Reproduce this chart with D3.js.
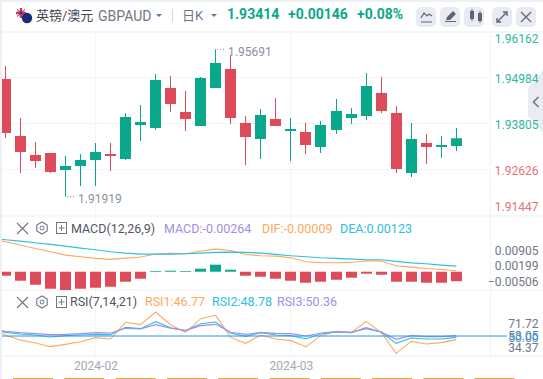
<!DOCTYPE html>
<html>
<head>
<meta charset="utf-8">
<script src="https://cdn.jsdelivr.net/npm/d3@7"></script>
<style>
body { margin: 0; background: #fff; overflow: hidden; }
text { font-family: Roboto, "Noto Sans CJK SC", sans-serif; }
</style>
</head>
<body>
<div id="root"></div>
<script>
//DATA
const open = [1.94933,1.93472,1.92985,1.93036,1.92600,1.92703,1.92857,1.93010,1.92882,1.93754,1.93677,1.94702,1.94087,1.93728,1.94702,1.95189,1.93805,1.93395,1.93908,1.93600,1.93574,1.93190,1.93626,1.93933,1.93984,1.94574,1.94061,1.92523,1.93292,1.93190,1.93216];
const high = [1.95266,1.93933,1.93318,1.93036,1.92959,1.93010,1.93292,1.93292,1.94061,1.94266,1.95061,1.95010,1.94625,1.94984,1.95691,1.95548,1.93984,1.94164,1.94446,1.93933,1.93805,1.93856,1.94420,1.94189,1.95087,1.94984,1.94241,1.93805,1.93523,1.93472,1.93677];
const low = [1.93421,1.92523,1.92652,1.92523,1.91919,1.92190,1.92190,1.92575,1.92857,1.93344,1.93626,1.94087,1.93600,1.93728,1.94702,1.93779,1.92729,1.92882,1.93728,1.92831,1.93010,1.93036,1.93523,1.93779,1.93882,1.94061,1.92523,1.92421,1.92754,1.92908,1.93087];
const close = [1.93549,1.93062,1.92831,1.92549,1.92703,1.92857,1.93062,1.92959,1.93959,1.93831,1.94907,1.94292,1.93908,1.94958,1.95343,1.93933,1.93446,1.94010,1.93728,1.93651,1.93241,1.93754,1.94113,1.94036,1.94753,1.94113,1.92626,1.93395,1.93190,1.93241,1.93414];

const macdBars = [-0.00111,-0.00249,-0.00360,-0.00471,-0.00506,-0.00471,-0.00443,-0.00416,-0.00277,-0.00194,0.00014,0.00028,0.00014,0.00083,0.00194,0.00055,-0.00111,-0.00139,-0.00194,-0.00249,-0.00305,-0.00277,-0.00222,-0.00166,-0.00055,-0.00083,-0.00277,-0.00277,-0.00305,-0.00305,-0.00264];
// line arrays start one candle before the visible ones
const dea = [0.00921,0.00885,0.00848,0.00801,0.00755,0.00709,0.00654,0.00608,0.00552,0.00515,0.00488,0.00488,0.00488,0.00497,0.00515,0.00534,0.00543,0.00534,0.00515,0.00478,0.00441,0.00414,0.00386,0.00368,0.00349,0.00331,0.00331,0.00284,0.00247,0.00220,0.00183,0.00155];
const dif = [0.00903,0.00829,0.00737,0.00644,0.00552,0.00460,0.00414,0.00368,0.00340,0.00377,0.00405,0.00488,0.00506,0.00497,0.00571,0.00626,0.00589,0.00478,0.00441,0.00432,0.00386,0.00275,0.00247,0.00247,0.00257,0.00303,0.00294,0.00164,0.00128,0.00090,0.00063,0.00026];

const rsi1 = [56.95,50.92,46.40,43.69,40.37,42.48,44.89,48.51,47.30,62.38,60.27,71.72,59.97,53.33,65.69,68.71,48.51,43.38,50.92,47.30,45.80,40.37,50.32,54.24,53.03,63.28,53.33,34.34,45.19,42.78,43.99,46.77];
const rsi2 = [56.05,53.33,51.83,50.92,49.11,50.32,50.92,51.52,51.22,57.86,56.65,62.98,57.55,54.84,61.17,62.68,52.43,49.72,53.03,50.92,50.32,47.60,51.83,53.64,53.03,57.55,53.64,43.38,48.21,47.30,47.30,48.78];
const rsi3 = [56.95,54.24,53.03,52.13,51.22,51.52,52.13,53.03,52.73,56.95,56.35,60.27,56.95,55.14,59.36,60.57,53.33,51.52,53.33,52.43,52.13,50.02,52.73,53.94,53.33,56.65,53.64,47.00,50.32,49.41,49.41,50.36];

const priceTicks = [1.96162,1.94984,1.93805,1.92626,1.91447];
const macdTicks = [0.00905,0.00199,-0.00506];
const rsiTicks = [71.72,53.05,34.37];
const rsiLevel = 50;
const monthLabels = ["2024-02","2024-03"];
const monthCandles = [6,19];

//DIMENSIONS
const width = 543, height = 379;
const plotLeft = 2, plotRight = 491;
const green = "#0aa88a", red = "#dd4b5a", gray = "#6f7686", gridColor = "#f4f5f9";
const orange = "#ffa85c", cyan = "#2fc0de", purple = "#a68be8";

const svg = d3.select("#root").append("svg").attr("width", width).attr("height", height);

//SCALES
const x = d3.scaleLinear().domain([0,30]).range([5.3,456.3]);
const yPrice = d3.scaleLinear().domain([1.91447,1.96162]).range([215,31]);
const yMacd = d3.scaleLinear().domain([-0.00506,0.00905]).range([290,239]);
const yMacdLabel = d3.scaleLinear().domain([-0.00506,0.00905]).range([281.7,250.3]);
const yRsi = d3.scaleLinear().domain([34.37,71.72]).range([353.3,312]);
const yRsiLabel = d3.scaleLinear().domain([34.37,71.72]).range([347.3,323.3]);

//FRAME
svg.append("rect").attr("width",width).attr("height",2).attr("fill","#eef0f6");
svg.append("rect").attr("y",31).attr("width",width).attr("height",2).attr("fill","#f5f6fa");
svg.append("rect").attr("width",plotLeft).attr("height",height).attr("fill","#eef0f6");
svg.append("rect").attr("x",plotRight-1).attr("y",33).attr("width",1).attr("height",323).attr("fill","#f1f2f6");
[216,290,356].forEach(y => {
    svg.append("rect").attr("x",plotLeft).attr("y",y-0.5).attr("width",width-plotLeft).attr("height",1).attr("fill","#eff0f4");
});

svg.append("defs").append("clipPath").attr("id","plot")
    .append("rect").attr("x",plotLeft).attr("y",33).attr("width",plotRight-plotLeft).attr("height",323);

//GRID
const grid = svg.append("g").attr("fill",gridColor);
monthCandles.forEach(i => {
    grid.append("rect").attr("x",Math.floor(x(i))).attr("y",33).attr("width",1).attr("height",323);
});
priceTicks.slice(1,4).forEach(t => {
    grid.append("rect").attr("x",plotLeft).attr("y",Math.round(yPrice(t))).attr("width",plotRight-plotLeft).attr("height",1);
});

//HANDLE
svg.append("polygon").attr("points","543,70 528,88 528,116 543,133").attr("fill","#ebecf2");
svg.append("path").attr("d","M538.5,97 L533.5,102 L538.5,107").attr("fill","none").attr("stroke","#6f7686").attr("stroke-width",1.6);

//CANDLES
const plot = svg.append("g").attr("clip-path","url(#plot)");
const candle = plot.selectAll(".candle").data(close).join("g").attr("class","candle")
    .attr("fill",(d,i) => close[i] >= open[i] ? green : red);
candle.append("rect")
    .attr("x",(d,i) => Math.floor(x(i)))
    .attr("y",(d,i) => yPrice(high[i]))
    .attr("width",1)
    .attr("height",(d,i) => yPrice(low[i]) - yPrice(high[i]));
candle.append("rect")
    .attr("x",(d,i) => Math.floor(x(i)) - 5)
    .attr("y",(d,i) => yPrice(Math.max(open[i],close[i])))
    .attr("width",11)
    .attr("height",(d,i) => Math.max(1,Math.abs(yPrice(open[i]) - yPrice(close[i]))));

//HIGH AND LOW MARKERS
function extremeLabel(i, value, label) {
    const cx = Math.floor(x(i)) + 1, cy = yPrice(value);
    svg.append("line").attr("x1",cx+1).attr("x2",cx+10).attr("y1",cy).attr("y2",cy)
        .attr("stroke","#8a8f9c").attr("stroke-width",1).attr("stroke-dasharray","1,2");
    svg.append("text").attr("x",cx+12).attr("y",cy+3).attr("dy",".32em")
        .attr("font-size",12).attr("fill","#8a8f9c").text(label);
}
extremeLabel(14,d3.max(high),"1.95691");
extremeLabel(4,d3.min(low),"1.91919");

//MACD PANE
plot.selectAll(".macd").data(macdBars).join("rect").attr("class","macd")
    .attr("x",(d,i) => Math.floor(x(i)) - 5)
    .attr("y",d => d > 0 ? yMacd(d) : yMacd(0))
    .attr("width",11)
    .attr("height",d => Math.max(0.7,Math.abs(yMacd(d) - yMacd(0))))
    .attr("fill",d => d > 0 ? green : red);

const lineMacd = d3.line().x((d,i) => x(i-1)).y(d => yMacd(d));
plot.append("path").datum(dif).attr("fill","none").attr("stroke",orange).attr("stroke-width",1.1).attr("d",lineMacd);
plot.append("path").datum(dea).attr("fill","none").attr("stroke",cyan).attr("stroke-width",1.2).attr("d",lineMacd);

//RSI PANE
const lineRsi = d3.line().x((d,i) => x(i-1)).y(d => yRsi(d));
[[rsi1,orange],[rsi2,cyan],[rsi3,purple]].forEach(s => {
    plot.append("path").datum(s[0]).attr("fill","none").attr("stroke",s[1]).attr("stroke-width",1.1).attr("d",lineRsi);
});
svg.append("line").attr("x1",plotLeft).attr("x2",507)
    .attr("y1",yRsi(rsiLevel)).attr("y2",yRsi(rsiLevel))
    .attr("stroke","#1e9be8").attr("stroke-width",1);

//AXES
function rightAxis(ticks, format, scale, color) {
    const g = svg.append("g").attr("transform",`translate(${plotRight},0)`)
        .call(d3.axisRight(scale).tickValues(ticks).tickFormat(format).tickSize(0));
    g.select(".domain").remove();
    g.selectAll("text")
        .attr("x",47.5)
        .style("text-anchor","end")
        .attr("font-size",12)
        .attr("font-family","Roboto")
        .attr("fill",color);
    return g;
}
// price labels sit a little under their grid line and are held inside the pane
rightAxis(priceTicks,d3.format(".5f"),yPrice,d => d > 1.93 ? "#2fb79d" : "#e8707c")
    .selectAll(".tick")
    .attr("transform",d => `translate(0,${Math.min(207.3,Math.max(39.3,yPrice(d) + 2.5))})`);
rightAxis(macdTicks,d3.format(".5f"),yMacdLabel,gray);
rightAxis(rsiTicks,d3.format(".2f"),yRsiLabel,gray);
rightAxis([rsiLevel],d3.format(".2f"),yRsiLabel,"#3a9be6");

const xAxis = svg.append("g").attr("transform","translate(0,356)")
    .call(d3.axisBottom(x).tickValues(monthCandles).tickFormat((d,i) => monthLabels[i]).tickSize(0));
xAxis.select(".domain").remove();
xAxis.selectAll("text").attr("y",5).attr("font-size",12).attr("font-family","Roboto").attr("fill","#a3a7b3");

//BOTTOM TABS
d3.range(10).forEach(i => {
    svg.append("rect").attr("x",13 + i*51.3).attr("y",378).attr("width",40).attr("height",1).attr("fill","#e0a24a");
});

//HEADER
function label(xPos, yPos, str, color, size, weight) {
    return svg.append("text").attr("x",xPos).attr("y",yPos).attr("font-size",size)
        .attr("font-weight",weight || 400).attr("fill",color).text(str);
}
// flags
svg.append("circle").attr("cx",21).attr("cy",13).attr("r",5).attr("fill","#fff");
svg.append("path").attr("d","M16,13 h10 M21,8 v10").attr("stroke","#d9343f").attr("stroke-width",2.5);
svg.append("path").attr("d","M17,9.5 L25,16.5 M25,9.5 L17,16.5").attr("stroke","#2b3a8c").attr("stroke-width",1);
svg.append("circle").attr("cx",27).attr("cy",18).attr("r",5.2).attr("fill","#1d2a78");

label(36,20,"英镑/澳元","#3f4452",13);
label(98,21,"GBPAUD","#6f7686",14);
svg.append("path").attr("d","M156,14 h6 l-3,3 z").attr("fill","#6f7686");
svg.append("rect").attr("x",172).attr("y",9).attr("width",1).attr("height",13).attr("fill","#d5d8e0");
label(182,20,"日K","#6f7686",13);
svg.append("path").attr("d","M211,14 h6 l-3,3 z").attr("fill","#6f7686");
label(227,19,"1.93414",green,14,700);
label(288,19,"+0.00146",green,14,700);
label(357,19,"+0.08%",green,14,700);

// toolbar buttons
[416,440,464,492,516].forEach(bx => {
    svg.append("rect").attr("x",bx).attr("y",7).attr("width",20).attr("height",20).attr("rx",5).attr("fill","#e9ebf2");
});
const iconColor = "#5f6472";
svg.append("path").attr("d","M421,18 l3,-5 l3,3 l2,-2 l3,2 M421,22 h11").attr("fill","none").attr("stroke",iconColor).attr("stroke-width",1.2);
svg.append("path").attr("d","M445,22 h11 v-1 h-11 z M446,20 l1,-3 l6,-6 l3,3 l-6,6 z").attr("fill",iconColor);
svg.append("path").attr("d","M470,11 h4 v8 h-4 z M478,13 h4 v8 h-4 z").attr("fill",iconColor);
svg.append("path").attr("d","M472,9 v12 M480,11 v12").attr("stroke",iconColor).attr("stroke-width",1);
svg.append("path").attr("d","M498,21 l8,-8 M503,12 h4 v4 M497,18 v4 h4").attr("fill","none").attr("stroke",iconColor).attr("stroke-width",1.4);
svg.append("path").attr("d","M521,12 l10,10 M531,12 l-10,10").attr("fill","none").attr("stroke",iconColor).attr("stroke-width",1.2);

//PANE LEGENDS
function paneIcons(cy) {
    svg.append("path").attr("d",`M17,${cy-5} l11,11 M28,${cy-5} l-11,11`).attr("stroke","#6f7686").attr("stroke-width",1.1);
    const hex = d3.range(6).map(k => [42 + 6*Math.sin(k*Math.PI/3), cy + 6*Math.cos(k*Math.PI/3)]);
    svg.append("polygon").attr("points",hex.join(" ")).attr("fill","none").attr("stroke","#6f7686").attr("stroke-width",1.1);
    svg.append("circle").attr("cx",42).attr("cy",cy).attr("r",2).attr("fill","none").attr("stroke","#6f7686");
    svg.append("rect").attr("x",56.5).attr("y",cy-5.5).attr("width",10).attr("height",11).attr("fill","none").attr("stroke","#6f7686");
    svg.append("path").attr("d",`M58.5,${cy} h6 M61.5,${cy-3} v6`).attr("stroke","#6f7686");
}
paneIcons(228);
label(71,233,"MACD(12,26,9)","#50555f",12.5);
label(164,233,"MACD:-0.00264",purple,12.5);
label(262,233,"DIF:-0.00009",orange,12.5);
label(340,233,"DEA:0.00123",cyan,12.5);

paneIcons(302);
label(70,306,"RSI(7,14,21)","#50555f",12.5);
label(145,306,"RSI1:46.77",orange,12.5);
label(212,306,"RSI2:48.78",cyan,12.5);
label(277,306,"RSI3:50.36",purple,12.5);
</script>
</body>
</html>
